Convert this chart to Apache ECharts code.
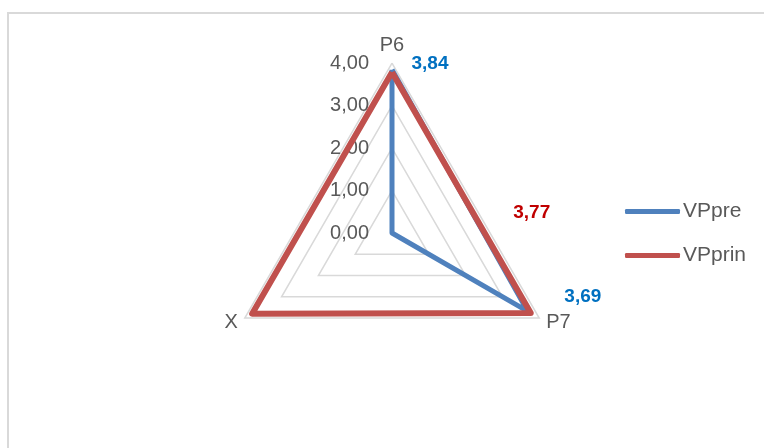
<!DOCTYPE html>
<html>
<head>
<meta charset="utf-8">
<script src="https://cdn.jsdelivr.net/npm/echarts@6/dist/echarts.min.js"></script>
<style>
  html, body { margin: 0; padding: 0; background: #fff; }
  #frame { position: absolute; left: 7px; top: 12px; width: 757px; height: 436px;
           border-left: 2px solid #d9d9d9; border-top: 2px solid #d9d9d9; box-sizing: border-box; }
  #chart { position: absolute; left: 0; top: 0; width: 764px; height: 448px; }
</style>
</head>
<body>
<div id="frame"></div>
<div id="chart"></div>
<script>
const categories = ['P6', 'P7', 'X'];
const seriesNames = ['VPpre', 'VPprin'];
const vpPre = [3.84, 3.69, 0];
const vpPrin = [3.78, 3.77, 3.80];
const tickValues = [0, 1, 2, 3, 4];

const FONT = "'Liberation Sans', Arial, sans-serif";
const BLUE = '#4F81BD', RED = '#C0504D';
const fmt = v => Number(v).toFixed(2).replace('.', ',');

// ECharts lays radar indicators out counter-clockwise; reorder so they run clockwise like the reference
const order = [0].concat(categories.map((_, i) => i).slice(1).reverse());
const reorder = arr => order.map(i => arr[i]);

function labelFor(catIdx) {
  const pos = order.indexOf(catIdx);
  return function (p) { return p.dimensionIndex === pos ? fmt(p.value) : ''; };
}

const chart = echarts.init(document.getElementById('chart'), null, { renderer: 'canvas' });
chart.setOption({
  animation: false,
  legend: {
    orient: 'vertical',
    left: 620, top: 196,
    icon: 'roundRect',
    itemWidth: 55, itemHeight: 5, itemGap: 23,
    textStyle: { fontFamily: FONT, fontSize: 21, color: '#595959', padding: [0, 0, 0, -2] },
    data: [
      { name: seriesNames[0], itemStyle: { color: BLUE } },
      { name: seriesNames[1], itemStyle: { color: RED } }
    ]
  },
  radar: {
    center: [392, 233],
    radius: 170,
    startAngle: 90,
    shape: 'polygon',
    splitNumber: tickValues.length - 1,
    indicator: reorder(categories).map((c, i) => {
      const ind = { name: c, min: tickValues[0], max: tickValues[tickValues.length - 1] };
      if (i !== 0) ind.axisLabel = { show: false };
      return ind;
    }),
    axisName: { fontFamily: FONT, fontSize: 20, color: '#595959' },
    nameGap: 8,
    axisLine: { show: false },
    axisTick: { show: false },
    splitArea: { show: false },
    splitLine: { lineStyle: { color: '#d9d9d9', width: 1.5 } },
    axisLabel: {
      show: true, margin: 23, fontFamily: FONT, fontSize: 20, color: '#595959',
      formatter: v => fmt(v)
    }
  },
  series: [
    {
      type: 'radar', name: seriesNames[0], z: 2,
      symbol: 'circle', symbolSize: 0.01,
      lineStyle: { color: BLUE, width: 5 },
      itemStyle: { color: BLUE },
      data: [{
        name: seriesNames[0], value: reorder(vpPre),
        label: {
          show: true, position: 'inside', align: 'center', verticalAlign: 'middle',
          offset: [38, -6], fontFamily: FONT, fontSize: 19, fontWeight: 'bold', color: '#0070C0',
          formatter: labelFor(0)
        }
      }]
    },
    {
      type: 'radar', name: seriesNames[1], z: 3,
      symbol: 'circle', symbolSize: 0.01,
      lineStyle: { color: RED, width: 6 },
      itemStyle: { color: RED },
      data: [{
        name: seriesNames[1], value: reorder(vpPrin),
        label: {
          show: true, position: 'inside', align: 'center', verticalAlign: 'middle',
          offset: [1, -100], fontFamily: FONT, fontSize: 19, fontWeight: 'bold', color: '#C00000',
          formatter: labelFor(1)
        }
      }]
    },
    {
      type: 'radar', name: 'labels-pre', z: 4,
      symbol: 'circle', symbolSize: 0.01,
      lineStyle: { opacity: 0, width: 0 },
      itemStyle: { color: BLUE },
      silent: true,
      data: [{
        name: 'labels-pre', value: reorder(vpPre),
        label: {
          show: true, position: 'inside', align: 'center', verticalAlign: 'middle',
          offset: [55, -15], fontFamily: FONT, fontSize: 19, fontWeight: 'bold', color: '#0070C0',
          formatter: labelFor(1)
        }
      }]
    }
  ]
});
</script>
</body>
</html>
